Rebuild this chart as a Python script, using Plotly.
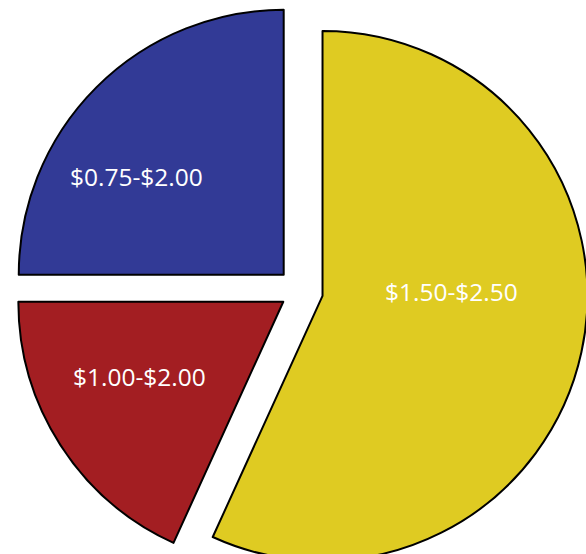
import plotly.graph_objects as go

labels = ["$1.50-$2.50", "$1.00-$2.00", "$0.75-$2.00"]
values = [56.8, 18.2, 25.0]
colors = ["#dfcb22", "#a31e22", "#323a96"]
pulls = [0.087, 0.075, 0.087]

# label placement (paper coordinates), layout only
label_xy = [(0.7627, 0.4988), (0.2210, 0.3512), (0.2165, 0.6988)]

fig = go.Figure(
    go.Pie(
        labels=labels,
        values=values,
        sort=False,
        direction="clockwise",
        rotation=0,
        marker=dict(colors=colors, line=dict(color="black", width=2)),
        pull=pulls,
        textinfo="none",
        showlegend=False,
        hoverinfo="none",
    )
)

for lab, (x, y) in zip(labels, label_xy):
    fig.add_annotation(
        text=lab,
        x=x,
        y=y,
        xref="paper",
        yref="paper",
        xanchor="center",
        yanchor="middle",
        showarrow=False,
        font=dict(color="white", size=24.5, family="Open Sans"),
    )

W, H = 600, 592
fig.update_layout(
    width=W,
    height=H,
    margin=dict(l=12, r=12, t=3, b=13),
    paper_bgcolor="white",
    plot_bgcolor="white",
    showlegend=False,
)

fig.write_html(
    "out.html",
    config={"displayModeBar": False},
    post_script=(
        "document.documentElement.style.overflow='hidden';"
        "document.body.style.overflow='hidden';"
        "document.body.style.margin='0';"
    ),
)
